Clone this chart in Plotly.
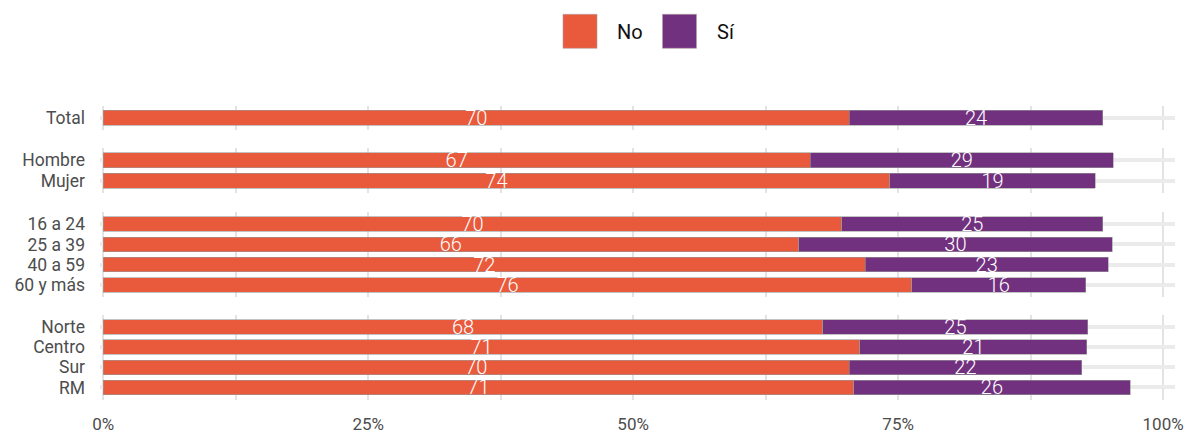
import plotly.graph_objects as go

# ---- data ----
categories = ["Total", "Hombre", "Mujer", "16 a 24", "25 a 39", "40 a 59", "60 y más",
              "Norte", "Centro", "Sur", "RM"]
groups = [0, 1, 1, 2, 2, 2, 2, 3, 3, 3, 3]
no_vals = [70.4, 66.7, 74.2, 69.7, 65.6, 71.9, 76.3, 67.9, 71.4, 70.4, 70.8]
si_vals = [23.9, 28.6, 19.4, 24.6, 29.6, 22.9, 16.4, 25.0, 21.4, 21.9, 26.1]
series_names = ["No", "Sí"]
x_ticks = [0, 25, 50, 75, 100]
x_tick_labels = ["0%", "25%", "50%", "75%", "100%"]

# ---- style ----
W, H = 1186, 432
C_NO = "#E95A3D"
C_SI = "#72317F"
FONT = "Roboto"
panel_px = [(105.5, 130), (148, 193), (212, 297), (315, 399.5)]  # top, bottom in px
x_px = (100, 1175)


def fx(px):
    return px / W


def fy(py):
    return 1 - py / H


fig = go.Figure()
n_groups = max(groups) + 1
for g in range(n_groups):
    idx = [i for i, gg in enumerate(groups) if gg == g]
    cats = [categories[i] for i in idx]
    ysuf = "" if g == 0 else str(g + 1)
    for name, vals, col in [("No", no_vals, C_NO), ("Sí", si_vals, C_SI)]:
        v = [vals[i] for i in idx]
        fig.add_trace(go.Bar(
            y=cats, x=v, orientation="h", name=name, showlegend=False,
            marker=dict(color=col, line=dict(color="#9a9a9a", width=0.6)),
            width=0.72,
            text=[f"{round(t)}" for t in v], textposition="inside",
            insidetextanchor="middle", textangle=0,
            textfont=dict(color="white", size=20, family=FONT, weight=300),
            xaxis="x" + ysuf, yaxis="y" + ysuf, cliponaxis=False,
        ))
    top, bot = panel_px[g]
    n = len(cats)
    fig.layout["yaxis" + ysuf] = dict(
        domain=[fy(bot), fy(top)], anchor="x" + ysuf,
        type="category", categoryorder="array", categoryarray=cats,
        tickmode="array", tickvals=cats, ticktext=cats,
        range=[n - 1 + 0.6, -0.6], showgrid=True, gridcolor="#ebebeb", gridwidth=4,
        zeroline=False, showline=False, ticks="", ticklabelstandoff=14,
        tickfont=dict(family=FONT, size=17.5, color="#4d4d4d"), automargin=False,
        fixedrange=True,
    )
    fig.layout["xaxis" + ysuf] = dict(
        domain=[fx(x_px[0]), fx(x_px[1])], anchor="y" + ysuf,
        range=[-0.3, 101.12], tickvals=x_ticks, ticktext=x_tick_labels,
        showticklabels=(g == n_groups - 1), ticklabeloverflow="allow",
        showgrid=True, gridcolor="#e3e3e3", gridwidth=2,
        minor=dict(dtick=12.5, tick0=0, showgrid=True, gridcolor="#e3e3e3", gridwidth=2),
        zeroline=False, showline=False, ticks="", ticklabelstandoff=12,
        tickfont=dict(family=FONT, size=17, color="#4d4d4d"), automargin=False,
        matches=None if g == 0 else "x",
    )

# ---- legend (drawn as shapes + text) ----
shapes = []
annotations = []
legend_items = [(series_names[0], C_NO, 563, 615), (series_names[1], C_SI, 662.5, 715)]
for name, col, bx, tx in legend_items:
    shapes.append(dict(type="rect", xref="paper", yref="paper",
                       x0=fx(bx), x1=fx(bx + 34), y0=fy(48.3), y1=fy(14.3),
                       fillcolor=col, line=dict(color="#b0a0a0", width=0.6)))
    annotations.append(dict(xref="paper", yref="paper", x=fx(tx), y=fy(32),
                            xanchor="left", yanchor="middle", text=name, showarrow=False,
                            font=dict(family=FONT, size=20, color="#111111")))

fig.update_layout(
    width=W, height=H, barmode="stack", bargap=0.28,
    margin=dict(l=0, r=0, t=0, b=0),
    paper_bgcolor="white", plot_bgcolor="white",
    uniformtext=dict(minsize=20, mode="show"),
    shapes=shapes, annotations=annotations, showlegend=False,
    font=dict(family=FONT),
)

fig.write_html(
    "out.html",
    config={"displayModeBar": False},
    post_script="document.body.style.margin='0';document.body.style.overflow='hidden';",
)
